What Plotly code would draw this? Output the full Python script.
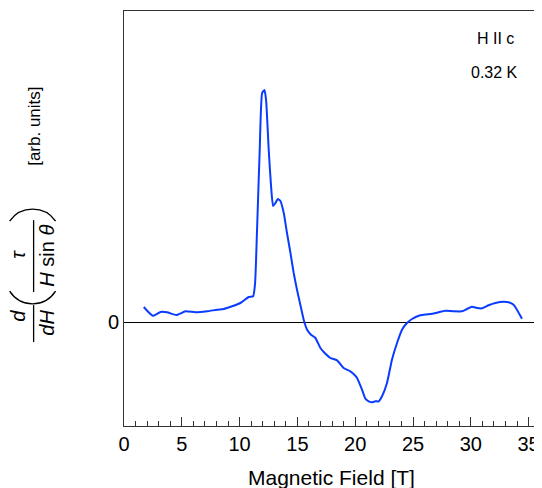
import plotly.graph_objects as go

field_T = [1.71, 2.49, 3.16, 3.73, 4.54, 5.32, 6.18, 7.19, 8.06, 8.63, 9.35, 10.07, 10.79, 11.17,
           11.34, 11.5, 11.74, 11.95, 12.15, 12.29, 12.52, 12.72, 12.9, 13.1, 13.3, 13.53, 13.82,
           14.1, 14.4, 14.68, 14.97, 15.26, 15.55, 15.84, 16.18, 16.56, 16.99, 17.28, 17.85, 18.43,
           19.0, 19.58, 20.01, 20.16, 20.59, 20.88, 21.17, 21.45, 21.74, 22.03, 22.32, 22.75, 23.18,
           23.62, 24.05, 24.48, 24.91, 25.63, 26.35, 27.07, 27.8, 28.52, 29.24, 29.67, 30.1, 30.54,
           30.97, 31.54, 32.12, 32.84, 33.27, 33.7, 33.99, 34.43]
signal = [0.15, 0.063, 0.10, 0.097, 0.07, 0.107, 0.097, 0.107, 0.123, 0.13, 0.157, 0.19, 0.25, 0.257,
          0.39, 0.89, 1.72, 2.29, 2.32, 2.22, 1.72, 1.36, 1.16, 1.19, 1.23, 1.21, 1.09,
          0.89, 0.69, 0.49, 0.32, 0.17, 0.02, -0.077, -0.127, -0.16, -0.26, -0.30, -0.36, -0.383,
          -0.46, -0.493, -0.537, -0.56, -0.677, -0.767, -0.793, -0.803, -0.793, -0.793, -0.743, -0.61, -0.377,
          -0.21, -0.077, -0.01, 0.03, 0.067, 0.077, 0.093, 0.113, 0.107, 0.107, 0.13, 0.153, 0.14,
          0.137, 0.167, 0.19, 0.203, 0.197, 0.173, 0.123, 0.033]
x_ticks = [0, 5, 10, 15, 20, 25, 30, 35]

FONT = "Liberation Sans, Arial, Helvetica, sans-serif"
OFF = 8  # page body margin
W, H = 542 - OFF, 488 - OFF
L, R, T, B = 123.5 - OFF, 3, 10.7 - OFF, 62

fig = go.Figure()
fig.add_trace(go.Scatter(x=field_T, y=signal, mode="lines",
                         line=dict(color="#0a3cff", width=2, shape="spline", smoothing=0.5),
                         showlegend=False, hoverinfo="skip"))

def px2paper(px, py):
    px -= OFF
    py -= OFF
    return (px - L) / (W - L - R), (H - B - py) / (H - T - B)

anns = []
def text_at(txt, px, py, size, angle=0):
    x, y = px2paper(px, py)
    anns.append(dict(text=txt, x=x, y=y, xref="paper", yref="paper", showarrow=False,
                     textangle=angle, xanchor="center", yanchor="middle",
                     font=dict(family=FONT, size=size, color="black")))

NB = "\u00a0"
text_at("<i>d</i>", 17, 316, 20, -90)
text_at("<i>dH</i>", 46, 323, 20, -90)
text_at("<i>τ</i>", 17, 254, 20, -90)
text_at("<i>H</i>" + NB + "sin" + NB + "<i>θ</i>", 47, 256, 20, -90)
text_at("[arb. units]", 34, 126, 17, -90)

text_at("H II c", 495, 38, 16)
text_at("0.32 K", 494, 72, 16)
text_at("Magnetic Field [T]", 331, 478, 21)

shapes = []
for (y0p, y1p) in [(305, 342), (220, 292)]:
    x0, y0 = px2paper(33, y0p)
    _, y1 = px2paper(33, y1p)
    shapes.append(dict(type="line", xref="paper", yref="paper", x0=x0, x1=x0, y0=y0, y1=y1,
                       line=dict(color="black", width=1.3)))

def paren_path(pts):
    p = [px2paper(a, b) for a, b in pts]
    return "M {:.5f},{:.5f} C {:.5f},{:.5f} {:.5f},{:.5f} {:.5f},{:.5f}".format(
        p[0][0], p[0][1], p[1][0], p[1][1], p[2][0], p[2][1], p[3][0], p[3][1])

for pts in [[(9, 221), (20, 205), (44, 205), (55, 221)],
            [(9, 291), (20, 308), (44, 308), (55, 291)]]:
    shapes.append(dict(type="path", xref="paper", yref="paper", path=paren_path(pts),
                       line=dict(color="black", width=1.4)))

fig.update_layout(
    width=W, height=H, margin=dict(l=L, r=R, t=T, b=B, autoexpand=False),
    paper_bgcolor="white", plot_bgcolor="white",
    font=dict(family=FONT, color="black"),
    annotations=anns, shapes=shapes,
    xaxis=dict(range=[0, 35.9], tickvals=x_ticks, ticks="inside", ticklen=9, tickwidth=1,
               tickcolor="#333", showgrid=False, zeroline=False,
               showline=True, linecolor="#333", linewidth=1, mirror=True,
               tickfont=dict(size=20, family=FONT), automargin=False,
               minor=dict(dtick=1, ticks="inside", ticklen=5, tickcolor="#333", tickwidth=1, showgrid=False)),
    yaxis=dict(range=[-1.04, 3.11], tickvals=[0], ticktext=["0"], ticks="", showgrid=False,
               zeroline=True, zerolinecolor="black", zerolinewidth=1, automargin=False,
               showline=True, linecolor="#333", linewidth=1, mirror=True,
               tickfont=dict(size=20, family=FONT)),
)

fig.write_html("out.html")
